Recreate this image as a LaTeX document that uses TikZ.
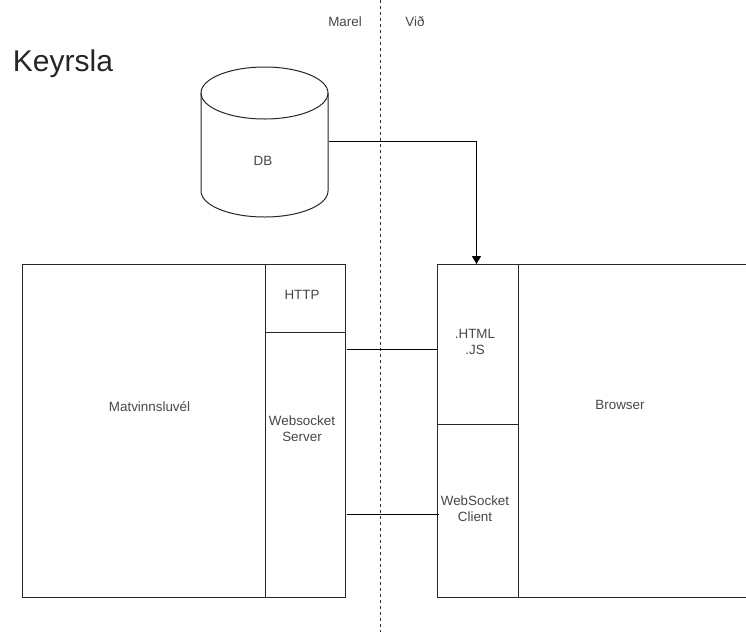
\documentclass[tikz,border=0pt]{standalone}
\usepackage{fontspec}
\setmainfont{Liberation Sans}
\usetikzlibrary{arrows.meta}
\tikzset{
  x=1pt,y=-1pt,
  every node/.style={font=\fontsize{13.4}{16}\selectfont,text=black!72,align=center,inner sep=0pt},
  boxpart/.style={draw=black!85,line width=1pt,anchor=north west,rectangle},
  wire/.style={draw=black,line width=1pt},
  divider/.style={draw=black!80,line width=.9pt,dash pattern=on 3pt off 3pt},
  cyl/.style={draw=black!85,line width=1pt},
}
\begin{document}
\begin{tikzpicture}
\useasboundingbox (0,0) rectangle (746,635);
\fill[white] (0,0) rectangle (746,635);
% divider
\coordinate (dtop) at (380,0);
\coordinate (dbot) at (380,632);
\draw[divider] (dtop) -- (dbot);
\node (marel) at (345,21.5) {Marel};
\node (vid) at (415,21.5) {Við};
\node[font=\fontsize{30}{34}\selectfont,text=black!85] (title) at (63,64) {Keyrsla};
% cylinder
\draw[cyl,fill=white] (201,93) arc[start angle=180,end angle=0,x radius=63.5,y radius=-26] -- (328,191) arc[start angle=0,end angle=180,x radius=63.5,y radius=26] -- cycle;
\draw[cyl] (201,93) arc[start angle=180,end angle=360,x radius=63.5,y radius=-26];
\node (db) at (263,161) {DB};
\coordinate (dbe) at (329,141);
% left block
\node[boxpart,minimum width=243pt,minimum height=333pt] (mat) at (22,264) {};
\node (matl) at (149.5,407) {Matvinnsluvél};
\node[boxpart,minimum width=80pt,minimum height=68pt] (http) at (265,264) {};
\node (httpl) at (302,295) {HTTP};
\node[boxpart,minimum width=80pt,minimum height=265pt] (ws) at (265,332) {};
\node (wsl) at (302,428.5) {Websocket\\Server};
% right block
\node[boxpart,minimum width=81pt,minimum height=160pt] (html) at (437,264) {};
\node (htmll) at (475,342) {.HTML\\.JS};
\node[boxpart,minimum width=81pt,minimum height=173pt] (wc) at (437,424) {};
\node (wcl) at (475,509) {WebSocket\\Client};
\node[boxpart,minimum width=240pt,minimum height=333pt] (browser) at (518,264) {};
\node (brl) at (620,405) {Browser};
% connectors
\draw[wire,-{Triangle[length=8pt,width=9pt]}] (dbe) -| ([xshift=-1.5pt]html.north);
\coordinate (c1) at (347,349);
\coordinate (c2) at (347,514);
\draw[wire] (c1) -- (c1-|html.west);
\draw[wire] (c2) -- ([xshift=2pt]c2-|wc.west);
\end{tikzpicture}
\end{document}
